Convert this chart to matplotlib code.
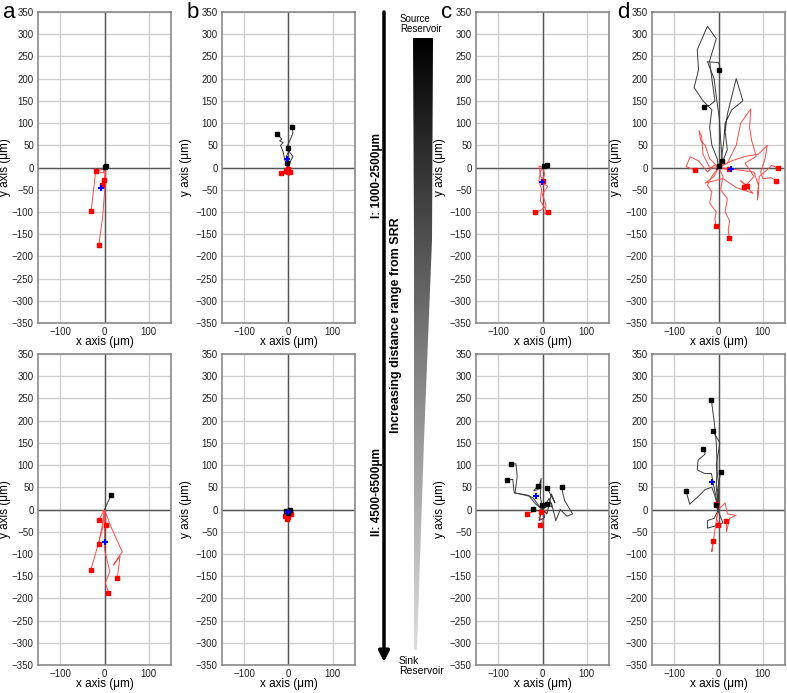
import numpy as np
import matplotlib
matplotlib.use("Agg")
import matplotlib.pyplot as plt
from matplotlib import font_manager as fm
from matplotlib.patches import Polygon
from matplotlib.colors import LinearSegmentedColormap

plt.rcParams['font.family'] = ['Liberation Sans', 'DejaVu Sans']

# ---- track data (um), every track starts at the origin ----
a1_black = [[(0, 0), (1, 1), (3, 3)], [(0, 0), (-1, 0), (0, 1)]]
a1_red = [[(0, 0), (-4, -4), (-20, -9)],
          [(0, 0), (-3, -12), (-20, -9), (-30, -97)],
          [(0, 0), (3, -15), (-1, -70), (-4, -110), (-13, -175)],
          [(0, 0), (3, -10), (-1.5, -28)],
          [(0, 0), (1, -20), (-5, -40)]]
a1_blue = (-7, -47)

a2_black = [[(0, 0), (7, 15), (15, 33)]]
a2_red = [[(0, 0), (-13, -24)],
          [(0, 0), (4, -35)],
          [(0, 0), (-6, -40), (-13, -77)],
          [(0, 0), (-5, -45), (-31, -137)],
          [(0, 0), (15, -40), (40, -95), (20, -125), (35, -105), (29, -154)],
          [(0, 0), (0, -90), (12, -140), (2, -165), (9, -187)]]
a2_blue = (0, -73)

b1_black = [[(0, 0), (-3, 10), (-5, 25), (0, 35), (-2, 50), (5, 65), (10, 78), (8, 91)],
            [(0, 0), (-8, 15), (-12, 35), (-18, 50), (-12, 56), (-20, 60), (-15, 64), (-25, 75)],
            [(0, 0), (5, 15), (10, 25), (2, 35), (-1, 45)],
            [(0, 0), (-6, 5), (-4, 10)]]
b1_red = [[(0, 0), (-8, -6), (-16, -13)],
          [(0, 0), (-6, -8)],
          [(0, 0), (3, -10)],
          [(0, 0), (-2, -4)],
          [(0, 0), (-1, -11)]]
b1_blue = (-4, 19)

b2_black = [[(0, 0), (-3, -2), (-5, -4)], [(0, 0), (2, -3), (3, -2)], [(0, 0), (-1, -5), (0, -7)]]
b2_red = [[(0, 0), (-5, -8), (-8, -15)], [(0, 0), (1, -10), (0, -18)],
          [(0, 0), (4, -6), (5, -10)], [(0, 0), (-2, -12), (-3, -21)]]
b2_blue = (-2, -6)

c1_black = [[(0, 0), (5, 2), (10, 6)], [(0, 0), (2, 1), (3, 3)]]
c1_red = [[(0, 0), (-5, -10), (-8, -30), (-2, -50), (-5, -75), (5, -90), (-5, -97), (-17, -101)],
          [(0, 0), (5, -15), (-3, -35), (12, -42), (0, -60), (8, -85), (5, -105), (12, -100)],
          [(0, 0), (-8, 4), (-4, -20), (2, -30)]]
c1_blue = (-2, -33)

c2_black = [[(0, 0), (-8, 8), (-20, 25), (-32, 32), (-62, 37), (-57, 75), (-60, 103), (-71, 102)],
            [(0, 0), (-15, 12), (-30, 30), (-64, 38), (-67, 68), (-80, 66)],
            [(0, 0), (-5, 30), (-3, 70), (-10, 45), (-20, 42), (-10, 53)],
            [(0, 0), (10, -10), (20, 35), (28, 15), (15, 40), (10, 48)],
            [(0, 0), (20, 15), (30, -25), (40, 0), (55, -15), (68, -10), (50, 20), (45, 40), (45, 51)],
            [(0, 0), (-8, -25), (5, -18), (-2, 10)],
            [(0, 0), (15, 25), (22, 5), (10, 13)],
            [(0, 0), (-10, -3), (-22, 2)]]
c2_red = [[(0, 0), (-15, -3), (-36, -10)],
          [(0, 0), (-8, -18), (2, -25), (-5, -35)],
          [(0, 0), (10, -8), (-3, -5)]]
c2_blue = (-15, 30)

d1_black = [[(0, 0), (8, 20), (5, 60), (2, 110), (-5, 160), (-10, 200), (-25, 238),
             (0, 236), (3, 228), (0, 219)],
            [(0, 0), (-3, 20), (-15, 50), (-20, 90), (-15, 130), (-35, 150), (-55, 180),
             (-45, 220), (-48, 265), (-25, 318), (-5, 290), (-20, 240), (-15, 200),
             (-8, 150), (-20, 140), (-32, 136)],
            [(0, 0), (10, 15), (20, 40), (15, 80), (20, 120), (30, 160), (40, 200),
             (55, 150), (30, 130), (15, 100), (12, 60), (8, 30), (7, 14)],
            [(0, 0), (-5, -5), (2, 3), (0, 3)]]
d1_red = [[(0, 0), (-10, 5), (-25, -10), (-45, 15), (-64, 24), (-73, 2), (-52, -6)],
          [(0, 0), (-15, -20), (-25, -40), (-15, -55), (-20, -80), (-5, -100), (-8, -115), (-6, -132)],
          [(0, 0), (10, -20), (5, -50), (20, -70), (15, -100), (25, -120), (22, -140), (24, -158)],
          [(0, 0), (20, 10), (40, 50), (50, 100), (73, 132), (70, 90), (75, 60), (85, 25),
           (60, 10), (80, -20), (58, -45)],
          [(0, 0), (-10, -20), (-30, -35), (10, -25), (40, -45), (78, -58), (50, -30), (65, -42)],
          [(0, 0), (30, 15), (60, 25), (90, 30), (110, 50), (105, 20), (95, -10), (100, -25),
           (119, -23), (130, -30)],
          [(0, 0), (40, -5), (80, -10), (90, -40), (88, -73), (92, -20), (110, -5), (120, 5), (135, -2)],
          [(0, 0), (-20, 20), (-30, 50), (-40, 60), (-44, 83), (-38, 70), (-35, 30), (-20, 0), (24, -4)]]
d1_blue = (29, -3)

d2_black = [[(0, 0), (-5, 50), (-3, 100), (-5, 150), (-10, 200), (-14, 230), (-16, 247)],
            [(0, 0), (0, 60), (-5, 100), (3, 150), (-12, 176)],
            [(0, 0), (-8, 40), (-16, 81), (-31, 81), (-48, 89), (-46, 111), (-30, 125), (-34, 137)],
            [(0, 0), (-3, 40), (5, 85)],
            [(0, 0), (-8, 30), (-15, 50), (-30, 45), (-45, 30), (-65, 12), (-73, 41)],
            [(0, 0), (-10, -20), (-25, -25), (-25, -42), (0, -35), (10, -30), (-6, 10)]]
d2_red = [[(0, 0), (-5, -20), (5, -40), (-1, -36)],
          [(0, 0), (15, 15), (20, -10), (40, -13), (25, -20), (18, -50), (18, -25)],
          [(0, 0), (-5, -25), (-10, -60), (-15, -95), (-13, -72)],
          [(0, 0), (3, 8), (-5, 13)]]
d2_blue = (-14, 61)

panels = {
    (0, 0): (a1_black, a1_red, a1_blue), (1, 0): (a2_black, a2_red, a2_blue),
    (0, 1): (b1_black, b1_red, b1_blue), (1, 1): (b2_black, b2_red, b2_blue),
    (0, 2): (c1_black, c1_red, c1_blue), (1, 2): (c2_black, c2_red, c2_blue),
    (0, 3): (d1_black, d1_red, d1_blue), (1, 3): (d2_black, d2_red, d2_blue),
}
letters = ['a', 'b', 'c', 'd']

W, H = 787, 693
fig = plt.figure(figsize=(W / 100, H / 100), dpi=100)

# overlay in pixel coordinates for the centre decoration
ov = fig.add_axes([0, 0, 1, 1])
ov.axis('off')

lefts = [38, 222, 476, 652]
tops = [12, 354]
aw, ah = 133, 311

for (r, c), (blk, red, blue) in panels.items():
    ax = fig.add_axes([lefts[c] / W, 1 - (tops[r] + ah) / H, aw / W, ah / H])
    ax.set_xlim(-150, 150)
    ax.set_ylim(-350, 350)
    ax.set_xticks([-100, 0, 100])
    ax.set_yticks(np.arange(-350, 351, 50))
    ax.grid(True, color='#cfcfcf', lw=1)
    ax.set_axisbelow(True)
    ax.axhline(0, color='#555555', lw=1, zorder=1)
    ax.axvline(0, color='#555555', lw=1, zorder=1)
    ax.tick_params(length=0, labelsize=7, pad=3, colors='#222222')
    for s in ax.spines.values():
        s.set_color('#8a8a8a')
        s.set_linewidth(1.2)
    ax.set_xlabel('x axis (\u03bcm)', fontsize=8.5)
    ax.set_ylabel('y axis (\u03bcm)', fontsize=8.5)
    ax.xaxis.set_label_coords(0.5, -0.043)
    ax.yaxis.set_label_coords(-0.20 if c == 0 else -0.225, 0.5)
    for tr in red:
        xs, ys = zip(*tr)
        ax.plot(xs, ys, color='#ff4a4a', lw=0.7, zorder=3)
        ax.plot(xs[-1], ys[-1], 's', color='#ff0000', ms=2.8, zorder=5)
    for tr in blk:
        xs, ys = zip(*tr)
        ax.plot(xs, ys, color='#3a3a3a', lw=0.7, zorder=4)
        ax.plot(xs[-1], ys[-1], 's', color='black', ms=2.8, zorder=5)
    ax.plot(blue[0], blue[1], '+', color='#0000ff', ms=5, mew=1.5, zorder=6)
    if r == 0:
        fig.text((lefts[c] - 35) / W, 1 - 12 / H, letters[c], fontsize=16,
                 va='center', ha='left')

# arrow
ov.annotate('', xy=(384, 662), xytext=(384, 12),
            arrowprops=dict(arrowstyle='-|>', lw=2.5, color='black',
                            mutation_scale=16, shrinkA=0, shrinkB=0))

# wedge gradient
cmap = LinearSegmentedColormap.from_list('w', ['#000000', '#7a7a7a', '#dedede'])
grad = np.linspace(0, 1, 256).reshape(-1, 1)
im = ov.imshow(grad, cmap=cmap, extent=(412, 434, 652, 38), aspect='auto', zorder=2)
wedge = Polygon([(413, 38), (433, 38), (432, 240), (424, 440), (417, 650),
                 (414, 650), (414, 440), (414, 240)], closed=True, transform=ov.transData)
im.set_clip_path(wedge)
ov.set_xlim(0, W)
ov.set_ylim(H, 0)

names = {f.name for f in fm.fontManager.ttflist}
narrow = 'Liberation Sans Narrow' if 'Liberation Sans Narrow' in names else 'Liberation Sans'

ov.text(400, 24, 'Source\nReservoir', ha='left', va='center', fontsize=7,
        linespacing=1.1)
ov.text(399, 666, 'Sink\nReservoir', ha='left', va='center', fontsize=7.5,
        linespacing=1.05)
ov.text(377, 176, 'I: 1000-2500\u03bcm', rotation=90, ha='center', va='center',
        fontsize=8.5, family=narrow, fontweight='bold')
ov.text(377, 492, 'II: 4500-6500\u03bcm', rotation=90, ha='center', va='center',
        fontsize=8.5, family=narrow, fontweight='bold')
ov.text(396, 325, 'Increasing distance range from SRR', rotation=90, ha='center',
        va='center', fontsize=9, family=narrow, fontweight='bold')

fig.savefig('out.png', dpi=100)
